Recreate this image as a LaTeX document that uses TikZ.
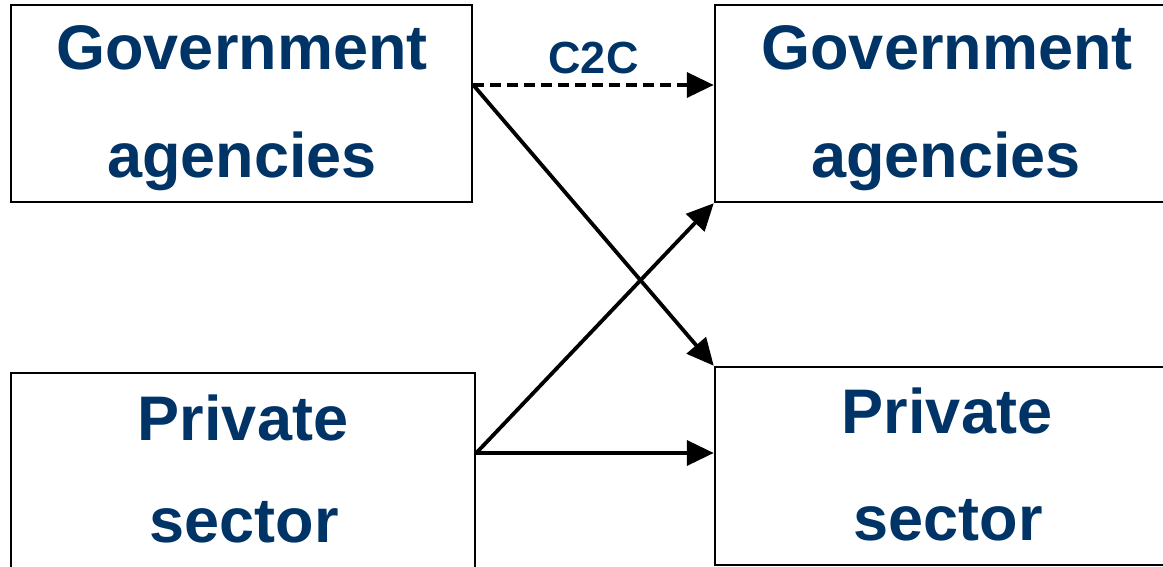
\documentclass[tikz,border=0pt]{standalone}
\usepackage{fontspec}
\setmainfont{Liberation Sans}
\usetikzlibrary{arrows.meta}
\definecolor{navy}{RGB}{0,51,102}
\tikzset{
  box/.style={draw=black, line width=2.5pt, fill=white, rectangle, inner sep=0pt},
  lbl/.style={text=navy, font=\fontsize{63}{70}\selectfont\bfseries, inner sep=0pt, anchor=base},
  flow/.style={line width=3.8pt, -{Triangle[length=27pt,width=25pt]}},
}
\begin{document}
\begin{tikzpicture}[x=1pt,y=-1pt]
\useasboundingbox (0,0) rectangle (1163,567);
\clip (0,0) rectangle (1163,567);
\fill[white] (0,0) rectangle (1163,567);
% boxes
\node[box, minimum width=461pt, minimum height=197pt] (TL) at (241.5,103.5) {};
\node[box, minimum width=465pt, minimum height=197pt] (TR) at (947.5,103.5) {};
\node[box, minimum width=464pt, minimum height=202pt] (BL) at (243,474) {};
\node[box, minimum width=465pt, minimum height=198pt] (BR) at (947.5,466) {};
% texts
\node[lbl] (tl1) at (242,70) {Government};
\node[lbl] (tl2) at (242,178) {agencies};
\node[lbl] (tr1) at (947,70) {Government};
\node[lbl] (tr2) at (946,178) {agencies};
\node[lbl] (bl1) at (243,440) {Private};
\node[lbl] (bl2) at (244,542) {sector};
\node[lbl] (br1) at (947,433) {Private};
\node[lbl] (br2) at (948,540) {sector};
% connectors
\coordinate (a) at ([yshift=18.5pt]TL.east);
\coordinate (b) at ([yshift=18.5pt]TR.west);
\coordinate (c) at ([yshift=21pt]BL.east);
\coordinate (d) at ([yshift=13pt]BR.west);
\draw[flow, dash pattern=on 11pt off 6pt] (a) -- (b)
  node[midway, above=9pt, text=navy, font=\fontsize{45}{48}\selectfont\bfseries, inner sep=0pt] (c2c) {C2C};
\draw[flow] (a) -- (BR.north west);
\draw[flow] (c) -- (TR.south west);
\draw[flow] (c) -- (d);
\end{tikzpicture}
\end{document}
